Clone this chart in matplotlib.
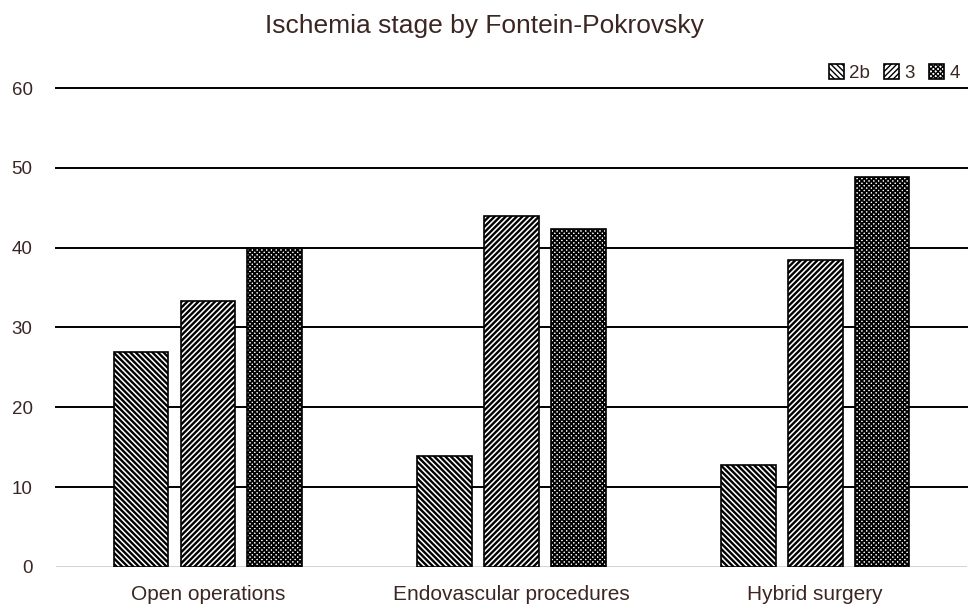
import matplotlib.pyplot as plt
import numpy as np

categories = ['Open operations', 'Endovascular procedures', 'Hybrid surgery']
stages = ['2b', '3', '4']
vals_2b = [26.9, 13.9, 12.8]
vals_3 = [33.3, 44.0, 38.5]
vals_4 = [40.0, 42.3, 48.8]

txt = '#3b2622'
plt.rcParams['font.family'] = ['Liberation Sans', 'DejaVu Sans']

fig = plt.figure(figsize=(9.68, 6.09), dpi=100)
ax = fig.add_axes([0.058, 0.069, 0.941, 0.7865])

x = np.arange(len(categories))
w = 0.18
step = 0.22
series = [vals_2b, vals_3, vals_4]
hatches = ['\\' * 6, '/' * 6, 'x' * 7]
hlw = [1.7, 1.7, 1.3]
for i, (vals, h) in enumerate(zip(series, hatches)):
    with plt.rc_context({'hatch.linewidth': hlw[i], 'hatch.color': 'black'}):
        ax.bar(x + (i - 1) * step, vals, w, facecolor='white', edgecolor='black',
               linewidth=1.2, hatch=h, label=stages[i], zorder=3)

ax.set_xlim(-0.5, 2.5)
ax.set_ylim(0, 60)
ax.set_yticks(range(0, 61, 10))
ax.set_xticks(x)
ax.set_xticklabels(categories)
ax.tick_params(axis='x', length=0, labelsize=15, colors=txt, pad=13)
ax.tick_params(axis='y', length=0, labelsize=13.5, colors=txt, pad=17)
for s in ax.spines.values():
    s.set_visible(False)
for yv in range(10, 61, 10):
    ax.axhline(yv, color='black', lw=1.4, zorder=1, clip_on=False)
ax.axhline(0, color='#cccccc', lw=1.2, zorder=1)

leg = ax.legend(loc='lower right', bbox_to_anchor=(1.0, 0.997), ncol=3, frameon=False,
                fontsize=13.5, handlelength=0.8, handleheight=0.8, handletextpad=0.25,
                columnspacing=0.8, borderaxespad=0, labelcolor=txt)

fig.text(0.5, 0.958, 'Ischemia stage by Fontein-Pokrovsky', ha='center', va='center',
         fontsize=19, color=txt)

fig.savefig('out.png', dpi=100)
